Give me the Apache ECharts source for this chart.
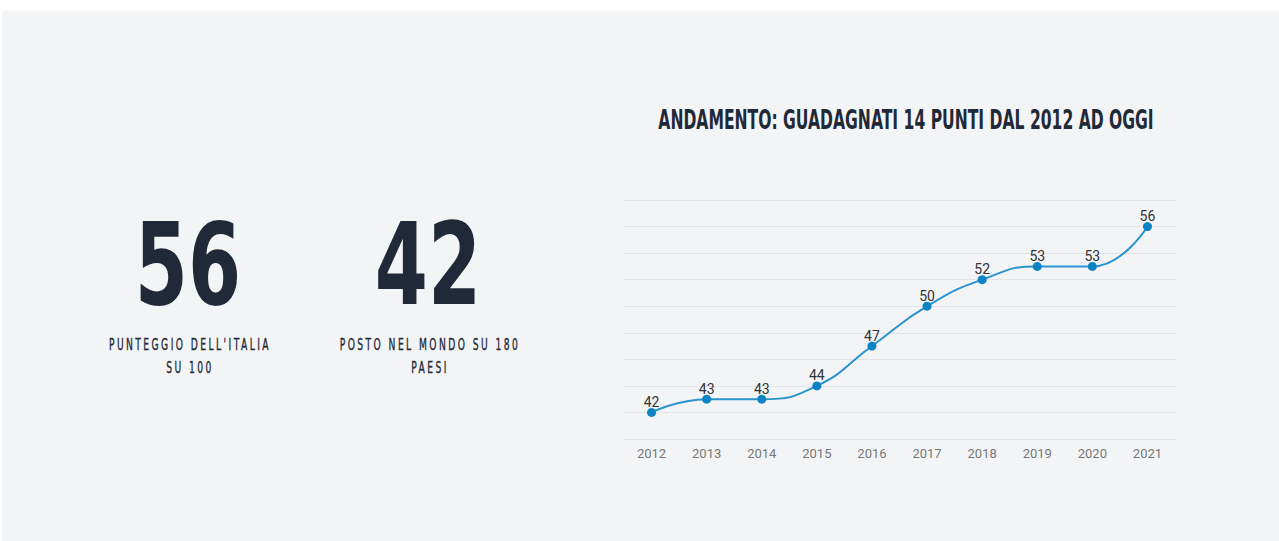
<!DOCTYPE html>
<html>
<head>
<meta charset="utf-8">
<script src="https://cdn.jsdelivr.net/npm/echarts@6/dist/echarts.min.js"></script>
<style>
  html, body { margin: 0; padding: 0; background: #ffffff; width: 1279px; height: 541px; overflow: hidden; }
  #panel {
    position: absolute; left: 3px; top: 12px; width: 1290px; height: 540px;
    background: #f3f4f6; box-shadow: 0 0 3px rgba(0,0,0,0.12);
  }
  #chart { position: absolute; left: 0; top: 0; width: 1279px; height: 541px; }
  .big {
    position: absolute; width: 240px; text-align: center;
    font-family: "DejaVu Sans", sans-serif;
    font-weight: bold; font-size: 114px; line-height: 114px; color: #1f2937;
    transform: scaleX(0.67); transform-origin: 50% 50%;
  }
  .lbl {
    position: absolute; width: 300px; text-align: center;
    font-family: "DejaVu Sans", sans-serif;
    font-size: 15px; line-height: 23px; letter-spacing: 4px; color: #1f2937;
    -webkit-text-stroke: 0.35px #1f2937;
    transform: scaleX(0.61); transform-origin: 50% 50%;
  }
</style>
</head>
<body>
<div id="panel"></div>
<div id="chart"></div>
<div class="big" style="left:68px; top:208px;">56</div>
<div class="lbl" style="left:40px; top:334px;">PUNTEGGIO DELL'ITALIA<br>SU 100</div>
<div class="big" style="left:308px; top:208px;">42</div>
<div class="lbl" style="left:280px; top:334px;">POSTO NEL MONDO SU 180<br>PAESI</div>
<script>
var titleText = 'ANDAMENTO: GUADAGNATI 14 PUNTI DAL 2012 AD OGGI';
var years = ['2012', '2013', '2014', '2015', '2016', '2017', '2018', '2019', '2020', '2021'];
var scores = [42, 43, 43, 44, 47, 50, 52, 53, 53, 56];

var myChart = echarts.init(document.getElementById('chart'), null, { renderer: 'svg' });

var option = {
    backgroundColor: 'transparent',
    animation: false,
    graphic: [{
        type: 'text',
        x: 906,
        y: 120,
        scaleX: 0.577,
        style: {
            text: titleText,
            x: 0,
            y: 0,
            textAlign: 'center',
            textVerticalAlign: 'middle',
            font: 'bold 27px "DejaVu Sans", sans-serif',
            fill: '#1f2937'
        }
    }],
    grid: {
        left: 624,
        right: 104,
        top: 200,
        bottom: 102
    },
    xAxis: {
        type: 'category',
        data: years,
        boundaryGap: true,
        axisLine: { show: true, lineStyle: { color: '#e2e4e8', width: 1 } },
        axisTick: { show: false },
        axisLabel: {
            color: '#777777',
            fontSize: 13,
            fontFamily: 'Roboto, sans-serif',
            margin: 8
        }
    },
    yAxis: {
        type: 'value',
        min: 40,
        max: 58,
        interval: 2,
        axisLabel: { show: false },
        axisLine: { show: false },
        axisTick: { show: false },
        splitLine: { lineStyle: { color: '#e2e4e8', width: 1 } }
    },
    series: [{
        type: 'line',
        data: scores,
        smooth: true,
        symbol: 'circle',
        symbolSize: 9,
        itemStyle: { color: '#0b83c5' },
        lineStyle: { color: '#2a93cf', width: 2 },
        label: {
            show: true,
            position: 'top',
            distance: -1,
            color: '#333333',
            fontSize: 14,
            fontFamily: 'Roboto, sans-serif'
        }
    }]
};

myChart.setOption(option);
</script>
</body>
</html>
